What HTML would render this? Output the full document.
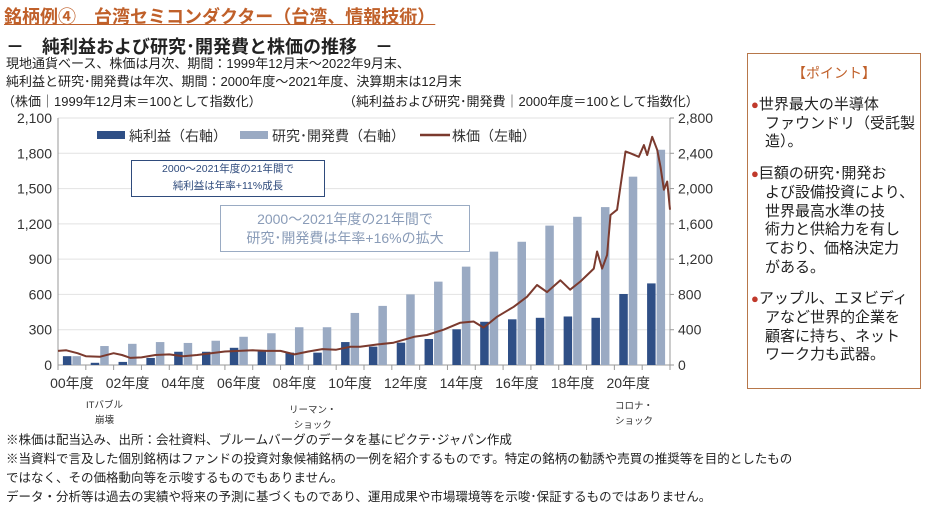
<!DOCTYPE html>
<html><head><meta charset="utf-8">
<style>
body{margin:0;background:#fff;}
#root{position:relative;width:927px;height:518px;overflow:hidden;font-family:"Liberation Sans","Noto Sans CJK JP",sans-serif;color:#222;}
.t{position:absolute;white-space:nowrap;}
.pl{white-space:nowrap;font-size:15px;line-height:18.7px;padding-left:17px;}
.pf{white-space:nowrap;font-size:15px;line-height:18.7px;padding-left:3px;}
.pf span{color:#c0392b;font-size:13px;}
</style></head>
<body>
<div id="root">
<div class="t" style="left:4px;top:3px;font-size:18px;color:#c0602a;text-decoration:underline;font-weight:bold;">銘柄例④　台湾セミコンダクター（台湾、情報技術）</div>
<div class="t" style="left:6px;top:33px;font-size:18px;font-weight:bold;color:#222;">－　純利益および研究･開発費と株価の推移　－</div>
<div class="t" style="left:6px;top:53px;font-size:13px;">現地通貨ベース、株価は月次、期間：1999年12月末～2022年9月末、</div>
<div class="t" style="left:6px;top:71px;font-size:13px;">純利益と研究･開発費は年次、期間：2000年度～2021年度、決算期末は12月末</div>
<div class="t" style="left:2px;top:91px;font-size:13px;">（株価｜1999年12月末＝100として指数化）</div>
<div class="t" style="left:343px;top:91px;font-size:13px;">（純利益および研究･開発費｜2000年度＝100として指数化）</div>

<svg id="chart" width="927" height="518" style="position:absolute;left:0;top:0;font-family:'Liberation Sans','Noto Sans CJK JP',sans-serif;"></svg>

<div class="t" style="left:131px;top:160px;width:192px;height:35px;border:1px solid #2f4b7c;font-size:10.5px;color:#2f4b7c;text-align:center;line-height:17px;background:#fff;">2000～2021年度の21年間で<br>純利益は年率+11%成長</div>
<div class="t" style="left:220px;top:205px;width:250px;height:47px;border:1px solid #9aabc3;font-size:14px;color:#8a9cb8;text-align:center;line-height:19px;padding-top:4px;box-sizing:border-box;background:#fff;">2000～2021年度の21年間で<br>研究･開発費は年率+16%の拡大</div>

<div class="t" style="left:86px;top:398px;font-size:9.5px;color:#333;text-align:center;line-height:15px;">ITバブル<br>崩壊</div>
<div class="t" style="left:289px;top:403px;font-size:9.5px;color:#333;text-align:center;line-height:15px;">リーマン・<br>ショック</div>
<div class="t" style="left:615px;top:399px;font-size:9.5px;color:#333;text-align:center;line-height:15px;">コロナ・<br>ショック</div>

<div class="t" style="left:6px;top:429px;font-size:12.5px;">※株価は配当込み、出所：会社資料、ブルームバーグのデータを基にピクテ･ジャパン作成</div>
<div class="t" style="left:6px;top:448px;font-size:12.5px;">※当資料で言及した個別銘柄はファンドの投資対象候補銘柄の一例を紹介するものです。特定の銘柄の勧誘や売買の推奨等を目的としたもの</div>
<div class="t" style="left:6px;top:467px;font-size:12.5px;">ではなく、その価格動向等を示唆するものでもありません。</div>
<div class="t" style="left:6px;top:486px;font-size:12.5px;">データ・分析等は過去の実績や将来の予測に基づくものであり、運用成果や市場環境等を示唆･保証するものではありません。</div>

<div class="t" style="left:747px;top:53px;width:174px;height:336px;border:1.5px solid #b7774a;box-sizing:border-box;background:#fff;">
 <div style="text-align:center;color:#c0602a;font-size:14px;margin-top:10px;line-height:18px;">【ポイント】</div>
 <div style="margin-top:14px;">
  <div class="pf"><span>●</span>世界最大の半導体</div>
  <div class="pl">ファウンドリ（受託製</div>
  <div class="pl">造）。</div>
 </div>
 <div style="margin-top:13px;">
  <div class="pf"><span>●</span>巨額の研究･開発お</div>
  <div class="pl">よび設備投資により、</div>
  <div class="pl">世界最高水準の技</div>
  <div class="pl">術力と供給力を有し</div>
  <div class="pl">ており、価格決定力</div>
  <div class="pl">がある。</div>
 </div>
 <div style="margin-top:13px;">
  <div class="pf"><span>●</span>アップル、エヌビディ</div>
  <div class="pl">アなど世界的企業を</div>
  <div class="pl">顧客に持ち、ネット</div>
  <div class="pl">ワーク力も武器。</div>
 </div>
</div>
</div>

<script>
const years = ["00","01","02","03","04","05","06","07","08","09","10","11","12","13","14","15","16","17","18","19","20","21"];
const netProfit = [100,25,35,80,150,150,195,165,140,140,260,208,253,295,405,490,518,535,550,535,805,925];
const rdCost = [100,215,240,260,250,275,320,360,428,428,590,670,800,945,1115,1285,1397,1580,1680,1790,2135,2440];
const stockT = [0,0.3,0.7,1,1.5,2,2.3,2.6,3,3.5,4,4.5,5,5.5,6,6.5,7,7.5,8,8.5,9,9.5,10,10.5,10.86,11.5,12.06,12.8,13.26,13.86,14.46,14.94,15.3,15.78,16.38,16.86,17.22,17.58,18.06,18.41,18.78,19.26,19.38,19.56,19.74,19.86,20.1,20.4,20.58,20.88,21.06,21.18,21.36,21.54,21.66,21.78,21.9,22];
const stockVal = [120,125,100,75,70,100,85,60,65,85,90,75,85,100,115,120,125,120,120,90,115,135,130,155,155,175,190,240,255,300,360,370,318,410,495,580,680,620,720,640,710,820,965,820,935,1275,1320,1815,1800,1770,1870,1785,1940,1830,1685,1490,1560,1320];
const leftTicks = [0,300,600,900,1200,1500,1800,2100];
const rightTicks = [0,400,800,1200,1600,2000,2400,2800];

const svg = document.getElementById('chart');
const NS = 'http://www.w3.org/2000/svg';
const X0 = 58, X1 = 670, Y0 = 365, YT = 118;
const catW = (X1 - X0) / years.length;
const yL = v => Y0 - (v / 2100) * (Y0 - YT);
const yR = v => Y0 - (v / 2800) * (Y0 - YT);
const xT = t => X0 + t * catW;
function mk(tag, attrs){const e=document.createElementNS(NS,tag);for(const k in attrs)e.setAttribute(k,attrs[k]);svg.appendChild(e);return e;}

leftTicks.forEach((v,i)=>{
  const g = mk('line',{x1:X0,x2:X1,y1:yL(v),y2:yL(v),stroke:i===0?'#999':'#e2e2e2','stroke-width':1});
  
  
  const tx = mk('text',{x:X0-6,y:yL(v)+5,'text-anchor':'end','font-size':14,fill:'#333'});
  tx.textContent = v.toLocaleString('en-US');
  
  
});
rightTicks.forEach(v=>{
  const tx = mk('text',{x:X1+8,y:yR(v)+5,'text-anchor':'start','font-size':14,fill:'#333'});
  tx.textContent = v.toLocaleString('en-US');
  
  
  const tk = mk('line',{x1:X1,x2:X1+4,y1:yR(v),y2:yR(v),stroke:'#999'});
  
  
});
const la = mk('line',{x1:X0,x2:X0,y1:YT,y2:Y0,stroke:'#999'});


const ra = mk('line',{x1:X1,x2:X1,y1:YT,y2:Y0,stroke:'#999'});



years.forEach((y,i)=>{
  const tk = mk('line',{x1:X0+i*catW,x2:X0+i*catW,y1:Y0,y2:Y0+5,stroke:'#999'});
  
  
  const bw = 8.5;
  const cx = X0 + i*catW + catW/2;
  const b1 = mk('rect',{x:cx-bw-0.5,y:yR(netProfit[i]),width:bw,height:Y0-yR(netProfit[i]),fill:'#2f4f86'});
  
  
  const b2 = mk('rect',{x:cx+0.5,y:yR(rdCost[i]),width:bw,height:Y0-yR(rdCost[i]),fill:'#9aaac3'});
  
  
  if(i%2===0){
    const tx = mk('text',{x:cx,y:Y0+23,'text-anchor':'middle','font-size':14,fill:'#333'});
    tx.textContent = y + '年度';
    
    
  }
});
const lastTk = mk('line',{x1:X1,x2:X1,y1:Y0,y2:Y0+5,stroke:'#999'});



let d = '';
stockT.forEach((t,i)=>{ d += (i?'L':'M') + xT(t).toFixed(1) + ' ' + yL(stockVal[i]).toFixed(1) + ' '; });
const line = mk('path',{d:d,fill:'none',stroke:'#7b3a2e','stroke-width':2,'stroke-linejoin':'round'});



const l1 = mk('rect',{x:97,y:131,width:28,height:8,fill:'#2f4f86'});


const t1 = mk('text',{x:129,y:141,'font-size':14,fill:'#333'}); t1.textContent='純利益（右軸）';


const l2 = mk('rect',{x:240,y:131,width:28,height:8,fill:'#9aaac3'});


const t2 = mk('text',{x:272,y:141,'font-size':14,fill:'#333'}); t2.textContent='研究･開発費（右軸）';


const l3 = mk('line',{x1:420,x2:450,y1:135,y2:135,stroke:'#7b3a2e','stroke-width':2.5});


const t3 = mk('text',{x:452,y:141,'font-size':14,fill:'#333'}); t3.textContent='株価（左軸）';


</script>
</body></html>
